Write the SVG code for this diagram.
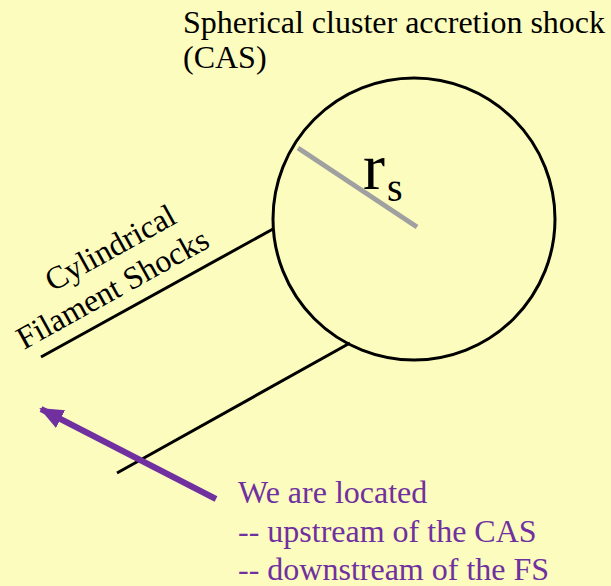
<svg xmlns="http://www.w3.org/2000/svg" width="611" height="586" viewBox="0 0 611 586">
<style>
.t{font-family:'Liberation Serif',serif;font-size:32px;fill:#000}
.p{font-family:'Liberation Serif',serif;font-size:32px;fill:#7030A0}
.blk{stroke:#000;stroke-width:3;fill:none}
</style>
<defs>
<marker id="ah" markerUnits="userSpaceOnUse" markerWidth="24" markerHeight="24" viewBox="0 0 24 24" refX="22" refY="12" orient="auto">
<path d="M0,2 L24,12 L0,22 Z" fill="#7030A0"/>
</marker>
</defs>
<rect width="611" height="586" fill="#FCFCBE"/>
<g id="cas">
<circle cx="414" cy="219" r="141" class="blk"/>
<line x1="298" y1="148" x2="417" y2="227" stroke="#A0A0A0" stroke-width="5"/>
<text x="363" y="189" class="t" style="font-size:66px">r</text>
<text x="387" y="201" class="t" style="font-size:40px">s</text>
</g>
<g id="cas-label">
<text x="183" y="33" class="t">Spherical cluster accretion shock</text>
<text x="183" y="68" class="t">(CAS)</text>
</g>
<g id="filaments">
<line x1="41" y1="357" x2="273" y2="229" class="blk"/>
<line x1="117" y1="473" x2="350" y2="343" class="blk"/>
<g transform="translate(24,350) rotate(-29)">
<text x="53" y="-37" class="t">Cylindrical</text>
<text x="0" y="0" class="t">Filament Shocks</text>
</g>
</g>
<g id="connectors">
<line x1="216" y1="499" x2="41" y2="409" stroke="#7030A0" stroke-width="6" marker-end="url(#ah)"/>
</g>
<g id="location">
<text x="238" y="503" class="p">We are located</text>
<text x="238" y="542" class="p">-- upstream of the CAS</text>
<text x="238" y="580" class="p">-- downstream of the FS</text>
</g>
</svg>
